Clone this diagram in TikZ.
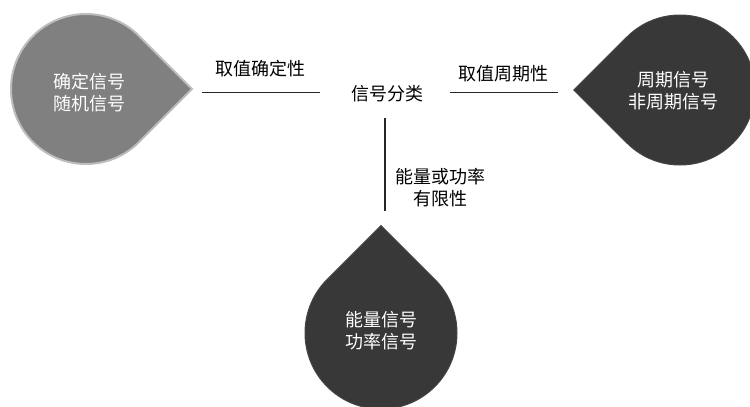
\documentclass[tikz,border=0pt]{standalone}
\usepackage{fontspec}
\newfontfamily\cjk{Noto Sans CJK SC}
\usetikzlibrary{calc}
\definecolor{dropgray}{HTML}{808080}
\definecolor{dropgrayline}{HTML}{BDBDBD}
\definecolor{dropdark}{HTML}{383838}
\definecolor{dropdarkline}{HTML}{444444}
\begin{document}
\begin{tikzpicture}[x=1pt,y=1pt,
  font=\cjk\fontsize{18}{22}\selectfont,
  graydrop/.style={fill=dropgray,draw=dropgrayline,line width=2pt},
  darkdrop/.style={fill=dropdark,draw=dropdarkline,line width=1pt},
  droptext/.style={text=white,align=center,inner sep=0pt},
  labeltext/.style={text=black,align=center,inner sep=0pt},
  rule/.style={draw=black!85,line width=0.8pt}]
\useasboundingbox (0,0) rectangle (750,-407);
\fill[white] (0,0) rectangle (750,-407);
% teardrop centres
\coordinate (lc) at (86,-89);
\coordinate (rc) at (680,-90);
\coordinate (bc) at (381,-333);
% shapes
\draw[graydrop] ($(lc)+(0:106.07)$) -- ($(lc)+(45:75)$) arc[start angle=45,end angle=315,radius=75] -- cycle;
\draw[darkdrop] ($(rc)+(180:106.07)$) -- ($(rc)+(225:75)$) arc[start angle=225,end angle=495,radius=75] -- cycle;
\draw[darkdrop] ($(bc)+(90:107.5)$) -- ($(bc)+(135:76)$) arc[start angle=135,end angle=405,radius=76] -- cycle;
% texts in shapes
\node[droptext] (lt) at (89,-93) {确定信号\\随机信号};
\node[droptext] (rt) at (673,-91) {周期信号\\非周期信号};
\node[droptext] (bt) at (381,-331) {能量信号\\功率信号};
% labels
\node[labeltext] (center) at (387,-94) {信号分类};
\node[labeltext] (l1) at (260,-69) {取值确定性};
\node[labeltext] (l2) at (503,-74) {取值周期性};
\node[labeltext] (l3) at (440,-188) {能量或功率\\有限性};
% rules
\coordinate (a1) at (202,-92);
\coordinate (a2) at (320,-92);
\coordinate (b1) at (450,-92);
\coordinate (b2) at (558,-92);
\coordinate (c1) at (385,-118);
\coordinate (c2) at (385,-211);
\draw[rule] (a1) -- (a2);
\draw[rule] (b1) -- (b2);
\draw[rule,line width=1.8pt] (c1) -- (c2);
\end{tikzpicture}
\end{document}
